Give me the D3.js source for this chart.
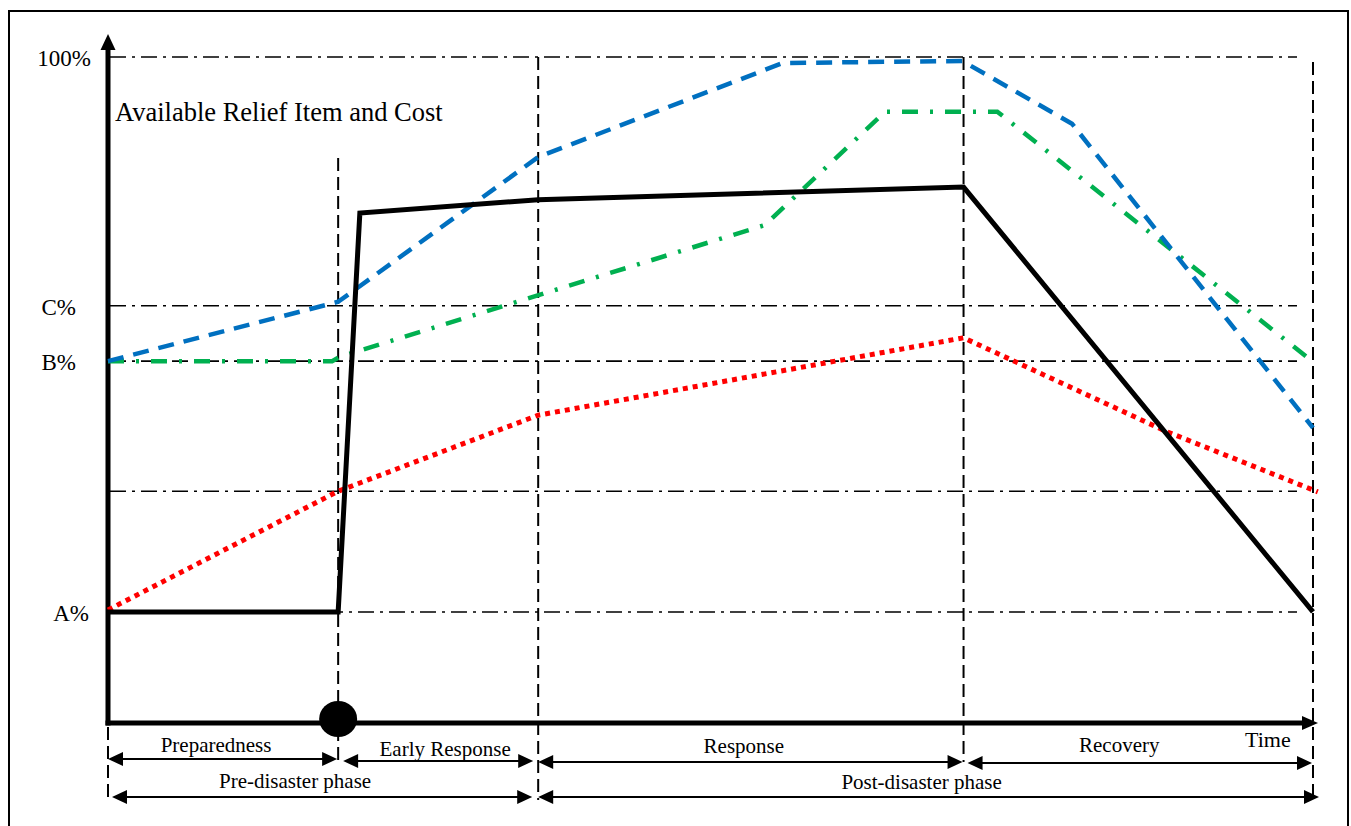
<!DOCTYPE html>
<html><head><meta charset="utf-8">
<script src="https://cdn.jsdelivr.net/npm/d3@7"></script>
<style>
html,body{margin:0;padding:0;background:#fff;}
svg{display:block;}
text{font-family:"Liberation Serif","Times New Roman",serif;fill:#000;}
</style>
</head><body>
<svg id="c" width="1351" height="826"></svg>
<script>
// ---------- data ----------
const phaseBounds = [0, 19.1, 35.7, 71.0, 100];
const phaseNames = ["Preparedness", "Early Response", "Response", "Recovery"];
const stageBounds = [0, 35.7, 100];
const stageNames = ["Pre-disaster phase", "Post-disaster phase"];
const yTickValues = [100, 62.7, 54.4, 34.9, 16.8];
const yTickLabels = ["100%", "C%", "B%", "", "A%"];
const titleText = "Available Relief Item and Cost";
const xAxisLabel = "Time";

const blackT = [0, 19.1, 20.9, 35.7, 71.0, 100];
const blackV = [16.8, 16.8, 76.6, 78.6, 80.5, 16.8];
const blueT = [0, 19.1, 20.1, 35.7, 56.0, 70.9, 80.0, 100];
const blueV = [54.4, 63.3, 64.6, 85.0, 99.1, 99.4, 90.0, 44.4];
const greenT = [0, 18.6, 19.1, 20.2, 54.5, 64.5, 73.8, 100];
const greenV = [54.4, 54.4, 54.9, 55.6, 74.8, 91.8, 91.8, 54.3];
const redT = [0, 19.1, 35.7, 71.0, 87.9, 100.4];
const redV = [17.1, 34.9, 46.3, 57.9, 43.8, 34.8];
const disasterT = 19.1;

// ---------- layout ----------
const svg = d3.select("#c");
const x = d3.scaleLinear().domain([0, 100]).range([108, 1313]);
const y = d3.scaleLinear().domain([0, 100]).range([724, 57]);

// frame
svg.append("rect").attr("x", 9).attr("y", 11).attr("width", 1339).attr("height", 830)
  .attr("fill", "none").attr("stroke", "#000").attr("stroke-width", 2);

// horizontal dash-dot gridlines
svg.append("g").selectAll("line").data(yTickValues).join("line")
  .attr("x1", x(0) + 2).attr("x2", 1297)
  .attr("y1", d => y(d)).attr("y2", d => y(d))
  .attr("stroke", "#000").attr("stroke-width", 1.6)
  .attr("stroke-dasharray", "16,6,3,6");

// vertical dashed lines at phase boundaries
const vTop = [null, 158, y(100), y(100), 62];
const vBottom = [800, 761, 800, 762, 795];
svg.append("g").selectAll("line").data(phaseBounds).join("line")
  .attr("x1", d => x(d)).attr("x2", d => x(d))
  .attr("y1", (d, i) => i === 0 ? y(0) + 3 : vTop[i])
  .attr("y2", (d, i) => vBottom[i])
  .attr("stroke", "#000").attr("stroke-width", 2)
  .attr("stroke-dasharray", "13,6");

// y axis (labels via d3.axisLeft)
const yAxis = d3.axisLeft(y).tickValues(yTickValues)
  .tickFormat((d, i) => yTickLabels[i]).tickSize(0).tickPadding(17);
const yg = svg.append("g").attr("transform", `translate(${x(0)},0)`).call(yAxis);
yg.select(".domain").remove();
const labelDx = [0, -15, -15, 0, -2];
yg.selectAll(".tick text")
  .attr("font-family", '"Liberation Serif","Times New Roman",serif')
  .attr("font-size", 23).attr("fill", "#000")
  .attr("dx", (d, i) => labelDx[i]).attr("dy", "0.36em");

// x axis (no ticks)
const xg = svg.append("g").attr("transform", `translate(0,${y(0) - 1})`)
  .call(d3.axisBottom(x).tickValues([]).tickSizeOuter(0));
xg.select(".domain").attr("stroke", "#000").attr("stroke-width", 5)
  .attr("d", `M${x(0) - 2.5},0H${x(100) - 8}`);
svg.append("path")
  .attr("d", `M${x(100) + 5},${y(0) - 1}L${x(100) - 11},${y(0) - 8}L${x(100) - 11},${y(0) + 6}Z`)
  .attr("fill", "#000");

// y axis thick line + arrow
svg.append("line").attr("x1", x(0)).attr("x2", x(0))
  .attr("y1", y(0) + 1.5).attr("y2", y(100) - 10)
  .attr("stroke", "#000").attr("stroke-width", 5);
svg.append("path")
  .attr("d", `M${x(0)},${y(100) - 23}L${x(0) - 7.5},${y(100) - 7}L${x(0) + 7.5},${y(100) - 7}Z`)
  .attr("fill", "#000");

// title
svg.append("text").attr("x", 115).attr("y", 121).attr("font-size", 26.5).text(titleText);

// series lines
const line = d3.line().x(d => x(d[0])).y(d => y(d[1]));
function series(T, V) { return T.map((t, i) => [t, V[i]]); }

svg.append("path").datum(series(redT, redV)).attr("d", line)
  .attr("fill", "none").attr("stroke", "#FF0000").attr("stroke-width", 5)
  .attr("stroke-dasharray", "5,5");
svg.append("path").datum(series(greenT, greenV)).attr("d", line)
  .attr("fill", "none").attr("stroke", "#00B050").attr("stroke-width", 4.5)
  .attr("stroke-dasharray", "16,12,3,12");
svg.append("path").datum(series(blueT, blueV)).attr("d", line)
  .attr("fill", "none").attr("stroke", "#0070C0").attr("stroke-width", 4.5)
  .attr("stroke-dasharray", "16,10");
svg.append("path").datum(series(blackT, blackV)).attr("d", line)
  .attr("fill", "none").attr("stroke", "#000").attr("stroke-width", 5)
  .attr("stroke-linejoin", "miter");

// disaster point
svg.append("ellipse").attr("cx", x(disasterT)).attr("cy", y(0) - 5)
  .attr("rx", 19).attr("ry", 18).attr("fill", "#000");

// x axis label
svg.append("text").attr("x", 1245).attr("y", 747).attr("font-size", 22).text(xAxisLabel);

// double arrows
function dblArrow(x1, x2, yy) {
  const g = svg.append("g");
  g.append("line").attr("x1", x1 + 6).attr("x2", x2 - 6).attr("y1", yy).attr("y2", yy)
    .attr("stroke", "#000").attr("stroke-width", 2);
  g.append("path").attr("d", `M${x1},${yy}L${x1 + 15},${yy - 7}L${x1 + 15},${yy + 7}Z`).attr("fill", "#000");
  g.append("path").attr("d", `M${x2},${yy}L${x2 - 15},${yy - 7}L${x2 - 15},${yy + 7}Z`).attr("fill", "#000");
}
const phasePad = [[0, 1], [5, 5], [0, 1], [4, 1]];
const phaseArrowY = [759, 761, 762, 763];
const phaseTextY = [752, 756, 753, 752];
const phaseTextDx = [-7, 7, -7, -19];
phaseNames.forEach((name, i) => {
  const a = x(phaseBounds[i]), b = x(phaseBounds[i + 1]);
  dblArrow(a + phasePad[i][0], b - phasePad[i][1], phaseArrowY[i]);
  svg.append("text").attr("x", (a + b) / 2 + phaseTextDx[i]).attr("y", phaseTextY[i])
    .attr("text-anchor", "middle").attr("font-size", 21).text(name);
});
const stagePad = [[4, 6], [0, -6]];
const stageTextY = [788, 789];
const stageTextDx = [-28, -4];
stageNames.forEach((name, i) => {
  const a = x(stageBounds[i]), b = x(stageBounds[i + 1]);
  dblArrow(a + stagePad[i][0], b - stagePad[i][1], 797);
  svg.append("text").attr("x", (a + b) / 2 + stageTextDx[i]).attr("y", stageTextY[i])
    .attr("text-anchor", "middle").attr("font-size", 21).text(name);
});
</script>
</body></html>
